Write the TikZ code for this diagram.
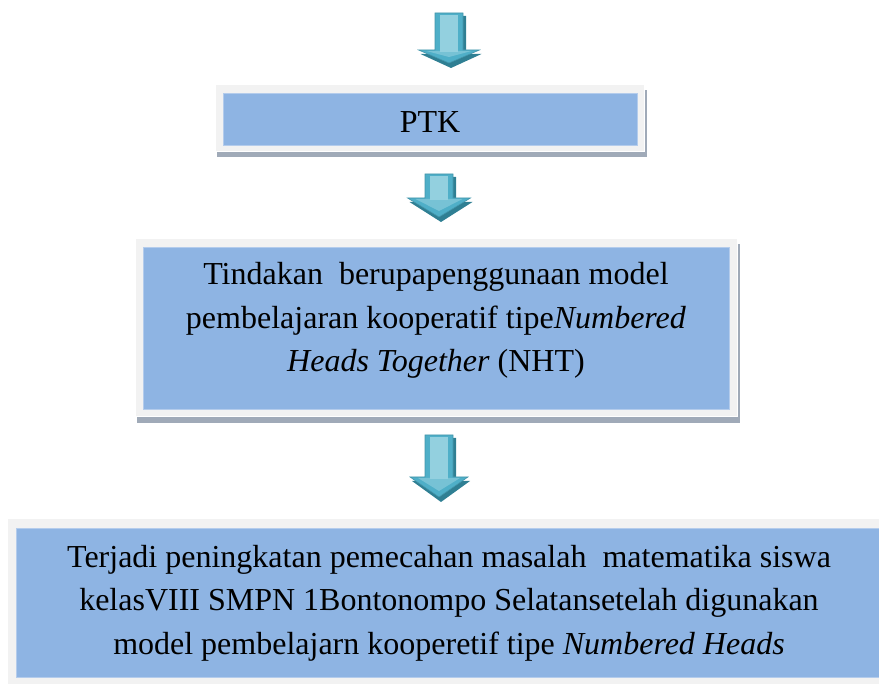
\documentclass[tikz,border=0pt]{standalone}
\usepackage{fontspec}
\setmainfont{Liberation Serif}
\usepackage{xcolor}

\definecolor{biru}{HTML}{8EB4E3}
\definecolor{birutepi}{HTML}{B4CCEC}
\definecolor{bingkai}{HTML}{F2F2F2}
\definecolor{bayang}{HTML}{A0AAB8}
\definecolor{panahtepi}{HTML}{4FAFC8}
\definecolor{panahmuda}{HTML}{93D0DF}
\definecolor{panahgelap}{HTML}{2F7F93}

% #1 = x, #2 = top, #3 = head base, #4 = tip, #5 = half head width
\newcommand{\panah}[5]{%
  \fill[panahgelap] ({#1-14+3},{#2+3}) -- ({#1+14+3},{#2+3}) -- ({#1+14+3},{#3+4})
    -- ({#1+#5+2},{#3+4}) -- ({#1+2},{#4+5}) -- ({#1-#5+2},{#3+4}) -- ({#1-14+3},{#3+4}) -- cycle;
  \filldraw[panahisi] ({#1-14},#2) -- ({#1+14},#2) -- ({#1+14},#3) -- ({#1+#5},#3)
    -- (#1,#4) -- ({#1-#5},#3) -- ({#1-14},#3) -- cycle;
  \fill[panahmuda] ({#1-9},{#2+2}) rectangle ({#1+9},{#3+2});
  \fill[panahmuda, opacity=0.6] ({#1-#5+8},{#3+1}) -- ({#1+#5-8},{#3+1}) -- (#1,{#4-6}) -- cycle;
}

\begin{document}
\begin{tikzpicture}[x=1pt,y=-1pt,
    kotak/.style={fill=biru, draw=birutepi, line width=0.8pt, inner sep=0pt},
    teks/.style={font=\rmfamily\fontsize{32}{43.5}\selectfont, align=center, inner sep=0pt},
    panahisi/.style={fill=panahtepi, draw=panahtepi!85!black, line width=0.6pt}]

\useasboundingbox (0,0) rectangle (879,684);
\clip (0,0) rectangle (879,684);

\panah{449}{13}{50}{63}{30.5}
\panah{439}{174}{198}{217}{31.5}
\panah{439}{435}{477}{497}{29}

\fill[bayang] (217,90) rectangle (647,157);
\filldraw[bingkai, draw=white, line width=1pt] (215,85) rectangle (644,152);
\node[kotak, minimum width=414pt, minimum height=52pt] (ptk) at (430,119) {};
\node[teks] (tptk) at (430,122.5) {PTK};

\fill[bayang] (137,244) rectangle (740,423);
\filldraw[bingkai, draw=white, line width=1pt] (135,239) rectangle (737,417);
\node[kotak, minimum width=586pt, minimum height=162pt] (tindakan) at (436,328) {};
\node[teks] (ttindakan) at (436,320.5) {Tindakan~ berupapenggunaan model\\
  pembelajaran kooperatif tipe\textit{Numbered}\\
  \textit{Heads Together} (NHT)};

\filldraw[bingkai, draw=white, line width=1pt] (7,519) rectangle (900,700);
\node[kotak, minimum width=869pt, minimum height=149pt] (hasil) at (450.5,602.5) {};
\node[teks] (thasil) at (449,603) {Terjadi peningkatan pemecahan masalah~ matematika siswa\\
  kelasVIII SMPN 1Bontonompo Selatansetelah digunakan\\
  model pembelajarn kooperetif tipe \textit{Numbered Heads}};
\end{tikzpicture}
\end{document}
